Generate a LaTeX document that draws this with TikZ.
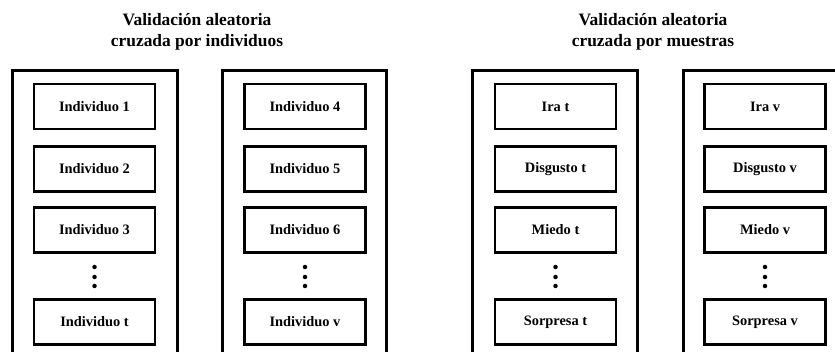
\documentclass[tikz,border=0pt]{standalone}
\usepackage{fontspec}
\setmainfont{Liberation Serif}
\usetikzlibrary{positioning}

\tikzset{
  frame/.style={draw, line width=3pt},
  item/.style={draw, line width=2.5pt, minimum width=121pt, minimum height=45pt,
    inner sep=0pt, font=\bfseries\fontsize{14.4}{16}\selectfont},
  heading/.style={align=center, font=\bfseries\fontsize{17.4}{21}\selectfont},
  dot/.style={circle, fill=black, inner sep=0pt, minimum size=4.5pt}
}

\begin{document}
\begin{tikzpicture}[x=1pt,y=-1pt]
\useasboundingbox (0,0) rectangle (835,352);
\clip (0,0) rectangle (835,352);

% titulos
\node[heading] (tind) at (197,32) {Validación aleatoria\\cruzada por individuos};
\node[heading] (tmue) at (653,32) {Validación aleatoria\\cruzada por muestras};

% marcos
\draw [frame] (12.5,380) -- (12.5,70.5) -- (177,70.5) -- (177,380);
\draw [frame] (222,380) -- (222,70.5) -- (386,70.5) -- (386,380);
\draw [frame] (472,380) -- (472,70.5) -- (637,70.5) -- (637,380);
\draw [frame] (683,380) -- (683,70.5) -- (850,70.5);

% individuos
\node[item] (ind1) at (94.5,106.5) {Individuo 1};
\node[item] (ind2) at (94.5,169) {Individuo 2};
\node[item] (ind3) at (94.5,230) {Individuo 3};
\node[item] (indt) at (94.5,322) {Individuo t};
\node[dot] at (94.5,267) {};
\node[dot] at (94.5,277) {};
\node[dot] at (94.5,286) {};

\node[item] (ind4) at (305,106.5) {Individuo 4};
\node[item] (ind5) at (305,169) {Individuo 5};
\node[item] (ind6) at (305,230) {Individuo 6};
\node[item] (indv) at (305,322) {Individuo v};
\node[dot] at (305,267) {};
\node[dot] at (305,277) {};
\node[dot] at (305,286) {};

% muestras
\node[item] (irat) at (555.5,106.5) {Ira t};
\node[item] (disgt) at (555.5,169) {Disgusto t};
\node[item] (miedt) at (555.5,230) {Miedo t};
\node[item] (sorpt) at (555.5,322) {Sorpresa t};
\node[dot] at (555.5,267) {};
\node[dot] at (555.5,277) {};
\node[dot] at (555.5,286) {};

\node[item] (irav) at (765,106.5) {Ira v};
\node[item] (disgv) at (765,169) {Disgusto v};
\node[item] (miedv) at (765,230) {Miedo v};
\node[item] (sorpv) at (765,322) {Sorpresa v};
\node[dot] at (765,267) {};
\node[dot] at (765,277) {};
\node[dot] at (765,286) {};
\end{tikzpicture}
\end{document}
